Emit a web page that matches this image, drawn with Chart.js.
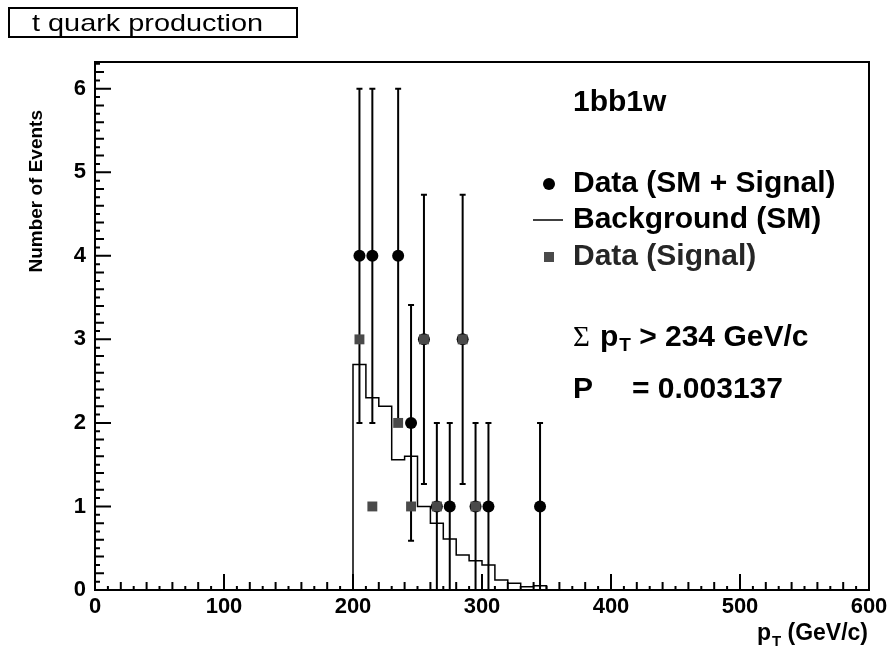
<!DOCTYPE html>
<html>
<head>
<meta charset="utf-8">
<script src="https://cdn.jsdelivr.net/npm/chart.js@4.4.1/dist/chart.umd.min.js"></script>
<style>
  html, body { margin: 0; padding: 0; background: #fff; }
  #wrap { width: 893px; height: 652px; }
</style>
</head>
<body>
<div id="wrap"><canvas id="ptChart" width="893" height="652"></canvas></div>
<script>
// Background (SM) histogram, 10 GeV bins, low edges
const binLow = [200, 210, 220, 230, 240, 250, 260, 270, 280, 290, 300, 310, 320, 330, 340];
const binWidth = 10;
const background = [2.7, 2.3, 2.2, 1.56, 1.6, 1.0, 0.8, 0.61, 0.42, 0.35, 0.30, 0.12, 0.08, 0.04, 0.05];

// Data (SM + Signal)
const dataX = [205, 215, 235, 245, 255, 265, 275, 285, 295, 305, 345];
const dataY = [4, 4, 4, 2, 3, 1, 1, 3, 1, 1, 1];
const dataErr = [2, 2, 2, 1.41, 1.73, 1, 1, 1.73, 1, 1, 1];

// Data (Signal)
const signalX = [205, 215, 235, 245, 255, 265, 285, 295];
const signalY = [3, 1, 2, 1, 3, 1, 3, 1];

const xTicks = [0, 100, 200, 300, 400, 500, 600];
const yTicks = [0, 1, 2, 3, 4, 5, 6];

const FONT = '"Liberation Sans", Arial, Helvetica, sans-serif';

// histogram as step line: start at the first low edge, close at the last high edge
const histPoints = [{ x: binLow[0], y: 0 }]
    .concat(binLow.map((lo, i) => ({ x: lo, y: background[i] })))
    .concat([{ x: binLow[binLow.length - 1] + binWidth, y: 0 }]);

const rootStyle = {
    id: 'rootStyle',
    beforeDatasetsDraw(chart) {
        const ctx = chart.ctx;
        const xs = chart.scales.x, ys = chart.scales.y;
        ctx.save();
        ctx.strokeStyle = '#000';
        ctx.lineWidth = 2;
        dataX.forEach((x, i) => {
            const px = xs.getPixelForValue(x);
            const top = ys.getPixelForValue(dataY[i] + dataErr[i]);
            const bot = ys.getPixelForValue(Math.max(0, dataY[i] - dataErr[i]));
            ctx.beginPath();
            ctx.moveTo(px, top); ctx.lineTo(px, bot);
            ctx.moveTo(px - 3, top); ctx.lineTo(px + 3, top);
            if (dataY[i] - dataErr[i] > 0) { ctx.moveTo(px - 3, bot); ctx.lineTo(px + 3, bot); }
            ctx.stroke();
        });
        ctx.restore();
    },
    afterDraw(chart) {
        const ctx = chart.ctx;
        const a = chart.chartArea;
        const xs = chart.scales.x, ys = chart.scales.y;
        ctx.save();

        // frame
        ctx.strokeStyle = '#000';
        ctx.lineWidth = 2;
        ctx.strokeRect(a.left, a.top, a.right - a.left, a.bottom - a.top);

        // inward ticks
        ctx.beginPath();
        for (let v = 0; v <= 600; v += 10) {
            const len = v % 100 === 0 ? 16 : (v % 20 === 0 ? 8 : 4);
            const px = xs.getPixelForValue(v);
            ctx.moveTo(px, a.bottom); ctx.lineTo(px, a.bottom - len);
        }
        for (let i = 0; i <= 63; i++) {
            const len = i % 10 === 0 ? 16 : (i % 2 === 0 ? 9 : 5);
            const py = ys.getPixelForValue(i / 10);
            if (py < a.top) break;
            ctx.moveTo(a.left, py); ctx.lineTo(a.left + len, py);
        }
        ctx.stroke();

        ctx.fillStyle = '#000';
        // y title
        ctx.save();
        ctx.translate(37, 110);
        ctx.rotate(-Math.PI / 2);
        ctx.font = 'bold 19px ' + FONT;
        ctx.textAlign = 'right';
        ctx.textBaseline = 'middle';
        ctx.fillText('Number of Events', 0, 0);
        ctx.restore();

        // x title  p_T (GeV/c)
        ctx.textBaseline = 'alphabetic';
        ctx.textAlign = 'left';
        const big = 'bold 23px ' + FONT, sub = 'bold 15px ' + FONT;
        ctx.font = big; const wp = ctx.measureText('p').width; const wr = ctx.measureText(' (GeV/c)').width;
        ctx.font = sub; const wt = ctx.measureText('T').width;
        let x0 = 868 - (wp + wt + wr + 1);
        ctx.font = big; ctx.fillText('p', x0, 640);
        ctx.font = sub; ctx.fillText('T', x0 + wp + 1, 646);
        ctx.font = big; ctx.fillText(' (GeV/c)', x0 + wp + wt + 1, 640);

        // legend block
        const lf = 'bold 30px ' + FONT;
        ctx.textBaseline = 'middle';
        ctx.font = lf;
        ctx.fillText('1bb1w', 573, 103);

        ctx.beginPath(); ctx.arc(549, 184, 6, 0, Math.PI * 2); ctx.fill();
        ctx.fillText('Data (SM + Signal)', 573, 184);

        ctx.lineWidth = 1.5;
        ctx.beginPath(); ctx.moveTo(533, 220); ctx.lineTo(563, 220); ctx.stroke();
        ctx.fillText('Background (SM)', 573, 220);

        ctx.fillStyle = '#4a4a4a';
        ctx.fillRect(544, 252, 10, 10);
        ctx.fillStyle = '#262626';
        ctx.fillText('Data (Signal)', 573, 257);

        ctx.fillStyle = '#000';
        ctx.font = '29px "Liberation Serif", serif';
        ctx.fillText('\u03A3', 573, 338);
        let sx = 573 + ctx.measureText('\u03A3').width + 10;
        ctx.font = lf; ctx.fillText('p', sx, 338); sx += ctx.measureText('p').width;
        ctx.font = 'bold 19px ' + FONT; ctx.fillText('T', sx + 1, 346); sx += ctx.measureText('T').width + 1;
        ctx.font = lf; ctx.fillText(' > 234 GeV/c', sx, 338);

        ctx.fillText('P', 573, 390);
        ctx.fillText('= 0.003137', 632, 390);

        // title box
        ctx.lineWidth = 2;
        ctx.strokeRect(9, 8, 288, 29);
        ctx.font = '24px ' + FONT;
        ctx.textBaseline = 'alphabetic';
        const tw = ctx.measureText('t quark production').width;
        ctx.save();
        ctx.translate(32, 31);
        ctx.scale(231 / tw, 1);
        ctx.fillText('t quark production', 0, 0);
        ctx.restore();

        ctx.restore();
    }
};

new Chart(document.getElementById('ptChart'), {
    type: 'scatter',
    data: {
        datasets: [
            {
                label: 'Data (Signal)',
                data: signalX.map((x, i) => ({ x: x, y: signalY[i] })),
                pointStyle: 'rect',
                pointRadius: 7,
                backgroundColor: '#4a4a4a',
                borderColor: '#4a4a4a',
                borderWidth: 0,
                order: 0
            },
            {
                label: 'Data (SM + Signal)',
                data: dataX.map((x, i) => ({ x: x, y: dataY[i] })),
                pointStyle: 'circle',
                pointRadius: 6,
                backgroundColor: '#000',
                borderColor: '#000',
                borderWidth: 0,
                order: 1
            },
            {
                type: 'line',
                label: 'Background (SM)',
                data: histPoints,
                stepped: 'before',
                borderColor: '#000',
                borderWidth: 1.5,
                pointRadius: 0,
                fill: false,
                order: 2
            }
        ]
    },
    options: {
        responsive: false,
        animation: false,
        devicePixelRatio: 1,
        layout: { padding: { left: 0, right: 24, top: 62, bottom: 0 } },
        plugins: { legend: { display: false }, tooltip: { enabled: false } },
        scales: {
            x: {
                type: 'linear',
                min: 0,
                max: 600,
                afterFit: s => { s.height = 62; },
                afterBuildTicks: s => { s.ticks = xTicks.map(v => ({ value: v })); },
                grid: { display: false, drawTicks: false },
                border: { display: false },
                ticks: { padding: 4, color: '#000', font: { family: FONT, size: 22, weight: 'bold' } }
            },
            y: {
                type: 'linear',
                min: 0,
                max: 6.32,
                afterFit: s => { s.width = 95; },
                afterBuildTicks: s => { s.ticks = yTicks.map(v => ({ value: v })); },
                grid: { display: false, drawTicks: false },
                border: { display: false },
                ticks: { padding: 9, color: '#000', font: { family: FONT, size: 22, weight: 'bold' } }
            }
        }
    },
    plugins: [rootStyle]
});
</script>
</body>
</html>
